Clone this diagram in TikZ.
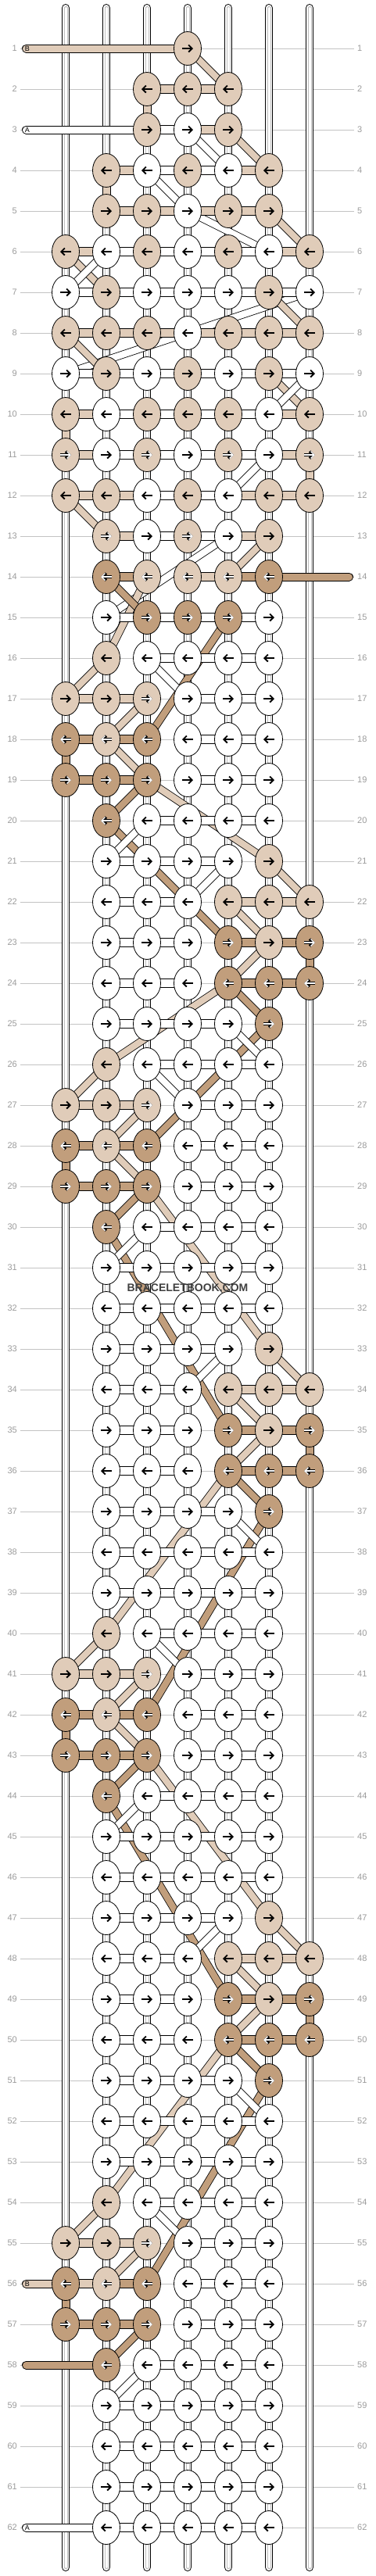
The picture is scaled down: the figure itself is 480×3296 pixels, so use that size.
\documentclass[tikz,border=0pt]{standalone}
\usepackage{fontspec}
\setsansfont{Liberation Sans}
\usetikzlibrary{shapes.geometric,arrows.meta}
\definecolor{cW}{RGB}{255,255,255}
\definecolor{cL}{RGB}{224,204,185}
\definecolor{cM}{RGB}{224,204,185}
\definecolor{cD}{RGB}{193,158,124}
\definecolor{gl}{RGB}{195,195,195}
\definecolor{gs}{RGB}{190,190,190}
\definecolor{gt}{RGB}{155,155,155}
\definecolor{wm}{RGB}{64,64,64}
\pgfdeclarelayer{l0}\pgfdeclarelayer{l1}\pgfdeclarelayer{l2}\pgfdeclarelayer{l3}
\pgfsetlayers{l0,l1,l2,l3,main}
\tikzset{
 knot/.style={ellipse,draw=black,line width=0.8pt,minimum width=35pt,minimum height=43pt,inner sep=0pt},
 arrblack/.style={draw=black,line width=1.9pt,-{Straight Barb[length=4.5pt,width=9pt]}},
 arrwhite/.style={draw=black,line width=3.4pt,-{Straight Barb[length=4.5pt,width=9pt]},
   postaction={draw=white,line width=1.4pt,-{Straight Barb[length=4.5pt,width=9pt]}}},
 conn/.style={draw=black,line width=0.8pt},
 bandW/.style={draw=black,line width=0.8pt,double=cW,double distance=8.4pt},
 bandL/.style={draw=black,line width=0.8pt,double=cL,double distance=8.4pt},
 bandD/.style={draw=black,line width=0.8pt,double=cD,double distance=8.4pt},
 vstrand/.style={draw=black,line width=10.6pt,line cap=round,
   postaction={draw=white,line width=8.6pt,line cap=round},
   postaction={draw=gs,line width=5pt,line cap=round},
   postaction={draw=white,line width=3pt,line cap=round}},
 endW/.style={draw=black,line width=11pt,line cap=round,postaction={draw=cW,line width=9pt,line cap=round}},
 endL/.style={draw=black,line width=11pt,line cap=round,postaction={draw=cL,line width=9pt,line cap=round}},
 endD/.style={draw=black,line width=11pt,line cap=round,postaction={draw=cD,line width=9pt,line cap=round}},
 rowlab/.style={font=\sffamily\fontsize{11}{13}\selectfont,text=gt,inner xsep=4pt,inner ysep=0pt},
 rowline/.style={draw=gl,line width=0.9pt},
 endlab/.style={font=\sffamily\fontsize{9}{10}\selectfont,text=black,inner sep=0pt},
}
\newcommand\KnotRow[2]{%
 \ifodd#1\relax\def\sa{-7}\def\sb{7}\else\def\sa{7}\def\sb{-7}\fi
 \foreach \kc/\kk in {#2}{%
  \node[knot,fill=c\kk] (k#1-\kc) at ({32+52*\kc},{10+52*#1}) {};
  \def\isw{0}\if\kk D\def\isw{1}\fi\if\kk M\def\isw{1}\fi
  \ifnum\isw=1
   \draw[arrwhite] ([shift={(\sa,0)}]k#1-\kc.center) -- ([shift={(\sb,0)}]k#1-\kc.center);
  \else
   \draw[arrblack] ([shift={(\sa,0)}]k#1-\kc.center) -- ([shift={(\sb,0)}]k#1-\kc.center);
  \fi
 }}
\newcommand\HConn[2]{%
 \foreach \kc/\kk in {#2}{%
  \pgfmathtruncatemacro\cn{\kc+1}%
  \draw[conn,fill=c\kk] ([shift={(-2,-5.5)}]k#1-\kc.east) rectangle ([shift={(2,5.5)}]k#1-\cn.west);
 }}
\newcommand\VConn[3]{%
 \pgfmathtruncatemacro\rn{#1+1}%
 \draw[conn,fill=c#3] ([shift={(-5,-2)}]k#1-#2.south) rectangle ([shift={(5,2)}]k\rn-#2.north);}
\newcommand\Band[5]{\draw[band#5] (k#1-#2.center) -- (k#3-#4.center);}
\newcommand\LeftKnots[5]{%
 \KnotRow{#1}{2/L,3/W,4/W,5/W,6/W}
 \KnotRow{#2}{1/L,2/L,3/M,4/W,5/W,6/W}
 \KnotRow{#3}{1/D,2/M,3/D,4/W,5/W,6/W}
 \KnotRow{#4}{1/D,2/D,3/D,4/W,5/W,6/W}
 \KnotRow{#5}{2/D,3/W,4/W,5/W,6/W}}
\newcommand\RightKnots[5]{%
 \KnotRow{#1}{2/W,3/W,4/W,5/W,6/L}
 \KnotRow{#2}{2/W,3/W,4/W,5/L,6/L,7/L}
 \KnotRow{#3}{2/W,3/W,4/W,5/D,6/L,7/D}
 \KnotRow{#4}{2/W,3/W,4/W,5/D,6/D,7/D}
 \KnotRow{#5}{2/W,3/W,4/W,5/W,6/D}}
\newcommand\PlainKnots[1]{\KnotRow{#1}{2/W,3/W,4/W,5/W,6/W}}
\newcommand\LeftConn[5]{%
 \HConn{#1}{3/W,4/W,5/W}
 \HConn{#2}{1/L,2/L,4/W,5/W}
 \HConn{#3}{1/D,2/D,4/W,5/W}
 \HConn{#4}{1/D,2/D,4/W,5/W}
 \HConn{#5}{3/W,4/W,5/W}
 \VConn{#3}{1}{D}}
\newcommand\RightConn[5]{%
 \HConn{#1}{2/W,3/W,4/W}
 \HConn{#2}{2/W,3/W,5/L,6/L}
 \HConn{#3}{2/W,3/W,5/D,6/D}
 \HConn{#4}{2/W,3/W,5/D,6/D}
 \HConn{#5}{2/W,3/W,4/W}
 \VConn{#3}{7}{D}}
\newcommand\PlainConn[1]{\HConn{#1}{2/W,3/W,4/W,5/W}}
\newcommand\LeftBands[6]{%
 \Band{#1}{2}{#2}{1}{L}
 \Band{#1}{3}{#2}{4}{W}
 \Band{#2}{3}{#3}{2}{L}
 \Band{#3}{2}{#4}{3}{L}
 \Band{#4}{3}{#5}{2}{D}
 \Band{#5}{3}{#6}{2}{W}}
\newcommand\RightBands[6]{%
 \Band{#1}{6}{#2}{7}{L}
 \Band{#1}{5}{#2}{4}{W}
 \Band{#2}{5}{#3}{6}{L}
 \Band{#3}{6}{#4}{5}{L}
 \Band{#4}{5}{#5}{6}{D}
 \Band{#5}{5}{#6}{6}{W}}
\begin{document}
\begin{tikzpicture}[x=1pt,y=-1pt]
\useasboundingbox (0,0) rectangle (480,3296);
\begin{pgfonlayer}{l0}
 \fill[white] (0,0) rectangle (480,3296);
\end{pgfonlayer}
% row labels and guide lines
\foreach \r in {1,...,62}{
 \node[rowlab,anchor=east] (ll\r) at (26,{10+52*\r}) {\r};
 \node[rowlab,anchor=west] (lr\r) at (453,{10+52*\r}) {\r};
 \begin{pgfonlayer}{l0}\draw[rowline] (ll\r.east) -- (lr\r.west);\end{pgfonlayer}
}
% vertical strands
\foreach \kc in {1,...,7}{
 \coordinate (st\kc) at ({32+52*\kc},10.3);
 \coordinate (sb\kc) at ({32+52*\kc},3284.7);
 \begin{pgfonlayer}{l1}\draw[vstrand] (st\kc) -- (sb\kc);\end{pgfonlayer}
}
% knots
\KnotRow{1}{4/L}
\KnotRow{2}{3/L,4/L,5/L}
\KnotRow{3}{3/L,4/W,5/L}
\KnotRow{4}{2/L,3/W,4/L,5/W,6/L}
\KnotRow{5}{2/L,3/L,4/W,5/L,6/L}
\KnotRow{6}{1/L,2/W,3/L,4/W,5/L,6/W,7/L}
\KnotRow{7}{1/W,2/L,3/W,4/W,5/W,6/L,7/W}
\KnotRow{8}{1/L,2/L,3/L,4/W,5/L,6/L,7/L}
\KnotRow{9}{1/W,2/L,3/W,4/L,5/W,6/L,7/W}
\KnotRow{10}{1/L,2/W,3/L,4/L,5/L,6/W,7/L}
\KnotRow{11}{1/M,2/W,3/M,4/W,5/M,6/W,7/M}
\KnotRow{12}{1/L,2/L,3/W,4/L,5/W,6/L,7/L}
\KnotRow{13}{2/M,3/W,4/M,5/W,6/L}
\KnotRow{14}{2/D,3/M,4/M,5/M,6/D}
\KnotRow{15}{2/W,3/D,4/D,5/D,6/W}
\LeftKnots{16}{17}{18}{19}{20}
\RightKnots{21}{22}{23}{24}{25}
\LeftKnots{26}{27}{28}{29}{30}
\PlainKnots{31}\PlainKnots{32}
\RightKnots{33}{34}{35}{36}{37}
\PlainKnots{38}\PlainKnots{39}
\LeftKnots{40}{41}{42}{43}{44}
\PlainKnots{45}\PlainKnots{46}
\RightKnots{47}{48}{49}{50}{51}
\PlainKnots{52}\PlainKnots{53}
\LeftKnots{54}{55}{56}{57}{58}
\PlainKnots{59}\PlainKnots{60}\PlainKnots{61}\PlainKnots{62}
% free strand ends
\coordinate (eB1) at (33.5,62);
\coordinate (eA3) at (33.5,166);
\coordinate (eD14) at (446.5,738);
\coordinate (eB56) at (33.5,2922);
\coordinate (eD58) at (33.5,3026);
\coordinate (eA62) at (33.5,3234);
\begin{pgfonlayer}{l2}
 \draw[endL] (eB1) -- (k1-4.center);
 \draw[endW] (eA3) -- (k3-3.center);
 \draw[endD] (eD14) -- (k14-6.center);
 \draw[endL] (eB56) -- (k56-1.center);
 \draw[endD] (eD58) -- (k58-2.center);
 \draw[endW] (eA62) -- (k62-2.center);
 % long diagonal strands
 \Band{19}{3}{21}{6}{L}\Band{20}{2}{23}{5}{D}
 \Band{24}{5}{26}{2}{L}\Band{25}{6}{28}{3}{D}
 \Band{29}{3}{33}{6}{L}\Band{30}{2}{35}{5}{D}
 \Band{36}{5}{40}{2}{L}\Band{37}{6}{42}{3}{D}
 \Band{43}{3}{47}{6}{L}\Band{44}{2}{49}{5}{D}
 \Band{50}{5}{54}{2}{L}\Band{51}{6}{56}{3}{D}
 \Band{7}{7}{9}{1}{W}
 \Band{13}{5}{15}{2}{W}
 \Band{15}{5}{18}{3}{D}
 \Band{14}{3}{16}{2}{L}
 % top short diagonals
 \Band{1}{4}{2}{5}{L}
 \Band{3}{5}{4}{6}{L}
 \Band{3}{4}{4}{5}{W}
 \Band{4}{3}{5}{4}{W}
 \Band{5}{4}{6}{6}{W}
 \Band{5}{6}{6}{7}{L}
 \Band{6}{1}{7}{2}{L}
 \Band{6}{2}{7}{1}{W}
 \Band{7}{6}{8}{7}{L}
 \Band{8}{1}{9}{2}{L}
 \Band{9}{6}{10}{7}{L}
 \Band{9}{7}{10}{6}{W}
 \Band{11}{6}{12}{5}{W}
 \Band{12}{1}{13}{2}{L}
 \Band{13}{6}{14}{5}{L}
 \Band{14}{2}{15}{3}{D}
 % motifs
 \LeftBands{16}{17}{18}{19}{20}{21}
 \RightBands{21}{22}{23}{24}{25}{26}
 \LeftBands{26}{27}{28}{29}{30}{31}
 \RightBands{33}{34}{35}{36}{37}{38}
 \LeftBands{40}{41}{42}{43}{44}{45}
 \RightBands{47}{48}{49}{50}{51}{52}
 \Band{54}{2}{55}{1}{L}
 \Band{54}{3}{55}{4}{W}
 \Band{55}{3}{56}{2}{L}
 \Band{57}{3}{58}{2}{D}
 \Band{58}{3}{59}{2}{W}
\end{pgfonlayer}
\begin{pgfonlayer}{l3}
 \HConn{2}{3/L,4/L}
 \HConn{3}{3/W,4/L}
 \HConn{4}{2/L,3/W,4/W,5/L}
 \HConn{5}{2/L,3/L,4/L,5/L}
 \HConn{6}{1/L,2/W,3/W,4/W,5/W,6/L}
 \HConn{7}{1/W,2/W,3/W,4/W,5/W,6/W}
 \HConn{8}{1/L,2/L,3/L,4/L,5/L,6/L}
 \HConn{9}{1/W,2/W,3/W,4/W,5/W,6/W}
 \HConn{10}{1/L,2/W,3/W,4/W,5/W,6/L}
 \HConn{11}{1/L,2/W,3/W,4/W,5/W,6/L}
 \HConn{12}{1/L,2/L,3/W,4/W,5/L,6/L}
 \HConn{13}{2/L,3/W,4/W,5/L}
 \HConn{14}{2/D,4/L,5/D}
 \HConn{15}{2/W,3/W,4/W,5/W}
 \VConn{2}{3}{L}
 \VConn{4}{2}{L}
 \VConn{10}{1}{L}
 \VConn{11}{7}{L}
 \LeftConn{16}{17}{18}{19}{20}
 \RightConn{21}{22}{23}{24}{25}
 \LeftConn{26}{27}{28}{29}{30}
 \PlainConn{31}\PlainConn{32}
 \RightConn{33}{34}{35}{36}{37}
 \PlainConn{38}\PlainConn{39}
 \LeftConn{40}{41}{42}{43}{44}
 \PlainConn{45}\PlainConn{46}
 \RightConn{47}{48}{49}{50}{51}
 \PlainConn{52}\PlainConn{53}
 \HConn{54}{3/W,4/W,5/W}
 \HConn{55}{1/L,2/L,4/W,5/W}
 \HConn{56}{1/L,2/D,4/W,5/W}
 \HConn{57}{1/D,2/D,4/W,5/W}
 \HConn{58}{3/W,4/W,5/W}
 \VConn{56}{1}{D}
 \PlainConn{59}\PlainConn{60}\PlainConn{61}\PlainConn{62}
\end{pgfonlayer}
% strand end letters
\node[endlab] (tB1) at (35,62.5) {B};
\node[endlab] (tA3) at (35,166.5) {A};
\node[endlab] (tB56) at (35,2922.5) {B};
\node[endlab] (tA62) at (35,3234.5) {A};
% watermark
\node[font=\sffamily\bfseries\fontsize{14}{16}\selectfont,text=wm,inner sep=0pt] (wmark) at (240,1648) {BRACELETBOOK.COM};
\end{tikzpicture}
\end{document}
